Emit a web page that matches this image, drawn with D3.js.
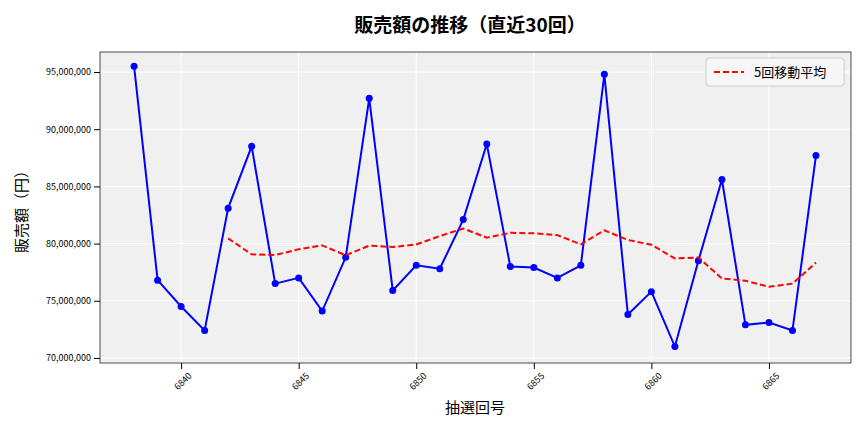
<!DOCTYPE html>
<html>
<head>
<meta charset="utf-8">
<title>販売額の推移</title>
<script src="https://cdn.jsdelivr.net/npm/d3@7"></script>
<style>
  body { margin: 0; background: #fff; }
  text { font-family: "Noto Sans CJK JP", "DejaVu Sans", sans-serif; }
  .tick text { fill: #000; }
</style>
</head>
<body>
<svg id="chart" width="864" height="432"></svg>
<script>
// 抽選回号
var draws = d3.range(6838, 6868);
// 販売額 (百万円単位で読み取り)
var sales = [95.5, 76.8, 74.5, 72.4, 83.1, 88.5, 76.5, 77.0, 74.1, 78.8,
             92.7, 75.9, 78.1, 77.8, 82.1, 88.7, 78.0, 77.9, 77.0, 78.1,
             94.8, 73.8, 75.8, 71.0, 78.5, 85.6, 72.9, 73.1, 72.4, 87.7];
// 5回移動平均 (6842から)
var maDraws = d3.range(6842, 6868);
var ma = [80.46, 79.06, 79.0, 79.5, 79.84, 78.98, 79.82, 79.7, 79.92, 80.66,
          81.32, 80.52, 80.94, 80.9, 80.74, 79.94, 81.16, 80.32, 79.9, 78.7,
          78.78, 76.94, 76.76, 76.22, 76.5, 78.34];
var xTicks = [6840, 6845, 6850, 6855, 6860, 6865];
var yTicks = [70, 75, 80, 85, 90, 95];

var svg = d3.select("#chart");
var L = 100, R = 851, T = 52, B = 363;
var x = d3.scaleLinear().domain([6836.55, 6868.49]).range([L, R]);
var y = d3.scaleLinear().domain([69.56, 96.75]).range([B, T]);

svg.append("rect").attr("x", L).attr("y", T).attr("width", R - L).attr("height", B - T)
  .attr("fill", "#f0f0f0");

// grid
svg.append("g").selectAll("line").data(xTicks).enter().append("line")
  .attr("x1", d => x(d)).attr("x2", d => x(d)).attr("y1", T).attr("y2", B)
  .attr("stroke", "#fff").attr("stroke-width", 1);
svg.append("g").selectAll("line").data(yTicks).enter().append("line")
  .attr("x1", L).attr("x2", R).attr("y1", d => y(d)).attr("y2", d => y(d))
  .attr("stroke", "#fff").attr("stroke-width", 1);

svg.append("rect").attr("x", L).attr("y", T).attr("width", R - L).attr("height", B - T)
  .attr("fill", "none").attr("stroke", "#222").attr("stroke-width", 0.8);

// axes
var xa = svg.append("g").attr("transform", "translate(0," + B + ")")
  .call(d3.axisBottom(x).tickValues(xTicks).tickFormat(d3.format("d")).tickSizeOuter(0));
xa.select(".domain").remove();
xa.selectAll("text").attr("transform", "rotate(-45)").attr("text-anchor", "end")
  .attr("dx", "-2").attr("dy", "8").style("font-size", "9px");

var ya = svg.append("g").attr("transform", "translate(" + L + ",0)")
  .call(d3.axisLeft(y).tickValues(yTicks).tickFormat(d => d3.format(",")(d * 1000000)).tickSizeOuter(0));
ya.select(".domain").remove();
ya.selectAll("text").style("font-size", "9px");

// series
var line = d3.line().x((d, i) => x(draws[i])).y(d => y(d));
svg.append("path").datum(sales).attr("d", line).attr("fill", "none")
  .attr("stroke", "#0000ff").attr("stroke-width", 2);
svg.append("g").selectAll("circle").data(sales).enter().append("circle")
  .attr("cx", (d, i) => x(draws[i])).attr("cy", d => y(d)).attr("r", 3.5).attr("fill", "#0000ff");

var maLine = d3.line().x((d, i) => x(maDraws[i])).y(d => y(d));
svg.append("path").datum(ma).attr("d", maLine).attr("fill", "none")
  .attr("stroke", "#ff0000").attr("stroke-width", 2).attr("stroke-dasharray", "6,3");

// legend
var lg = svg.append("g").attr("transform", "translate(706,58)");
lg.append("rect").attr("width", 138).attr("height", 28).attr("rx", 3)
  .attr("fill", "#f7f7f7").attr("stroke", "#ccc");
lg.append("line").attr("x1", 8).attr("x2", 38).attr("y1", 14).attr("y2", 14)
  .attr("stroke", "#ff0000").attr("stroke-width", 2).attr("stroke-dasharray", "6,3");
lg.append("text").attr("x", 48).attr("y", 19).style("font-size", "13px").text("5回移動平均");

// titles
svg.append("text").attr("x", 470).attr("y", 32).attr("text-anchor", "middle")
  .style("font-size", "19px").style("font-weight", "bold").text("販売額の推移（直近30回）");
svg.append("text").attr("x", 475).attr("y", 413).attr("text-anchor", "middle")
  .style("font-size", "15px").text("抽選回号");
svg.append("text").attr("transform", "translate(27,208) rotate(-90)").attr("text-anchor", "middle")
  .style("font-size", "15px").text("販売額（円）");
</script>
</body>
</html>
